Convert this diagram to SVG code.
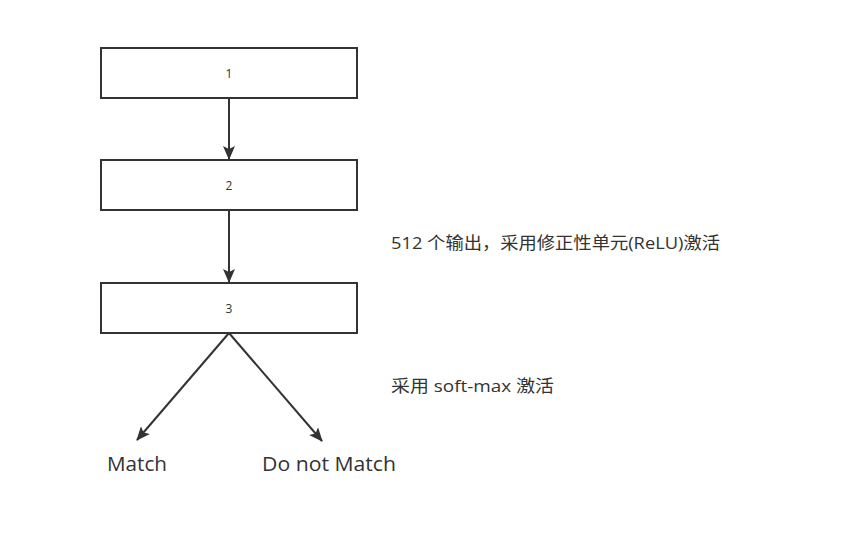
<svg xmlns="http://www.w3.org/2000/svg" width="842" height="535" viewBox="0 0 842 535">
<style>
.box{fill:#fff;stroke:#333;stroke-width:2}
.edge{stroke:#333;stroke-width:2;fill:none}
.t{font-family:"Open Sans","Noto Sans CJK SC",sans-serif;fill:#333}
</style>
<defs>
<marker id="ah2" markerWidth="14" markerHeight="12" refX="13" refY="6" orient="auto" markerUnits="userSpaceOnUse" viewBox="0 0 14 12">
<path d="M0,0 L14,6 L0,12 L3,6 Z" fill="#333"/>
</marker>
</defs>
<rect width="842" height="535" fill="#fff"/>
<g id="connectors">
<line class="edge" x1="229" y1="98" x2="229" y2="159" marker-end="url(#ah2)"/>
<line class="edge" x1="229" y1="210" x2="229" y2="282" marker-end="url(#ah2)"/>
<line class="edge" x1="229" y1="333" x2="137" y2="440" marker-end="url(#ah2)"/>
<line class="edge" x1="229" y1="333" x2="322" y2="441" marker-end="url(#ah2)"/>
</g>
<g id="node1"><rect class="box" x="101" y="48" width="256" height="50"/><text class="t" x="229" y="78" font-size="12" text-anchor="middle">1</text></g>
<g id="node2"><rect class="box" x="101" y="160" width="256" height="50"/><text class="t" x="229" y="190" font-size="12" text-anchor="middle">2</text></g>
<g id="node3"><rect class="box" x="101" y="283" width="256" height="50"/><text class="t" x="229" y="313" font-size="12" text-anchor="middle">3</text></g>
<g id="match"><text class="t" x="107" y="471" font-size="20" textLength="60" lengthAdjust="spacingAndGlyphs">Match</text></g>
<g id="nomatch"><text class="t" x="262" y="471" font-size="20" textLength="134" lengthAdjust="spacingAndGlyphs">Do not Match</text></g>
<g id="note1"><text class="t" x="391" y="249" font-size="17" textLength="329" lengthAdjust="spacingAndGlyphs">512 个输出，采用修正性单元(ReLU)激活</text></g>
<g id="note2"><text class="t" x="391" y="392" font-size="17" textLength="163" lengthAdjust="spacingAndGlyphs">采用 soft-max 激活</text></g>
</svg>
